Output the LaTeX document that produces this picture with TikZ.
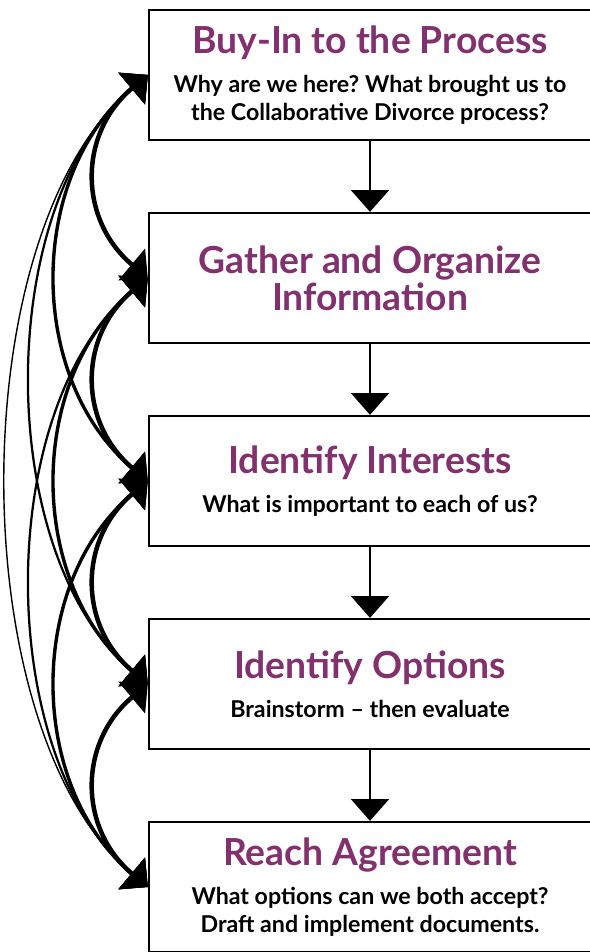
\documentclass[tikz,border=0pt]{standalone}
\usepackage{fontspec}
\setmainfont{Lato}
\usetikzlibrary{arrows.meta}
\definecolor{plum}{RGB}{130,48,110}
\newcommand{\titlefont}{\fontsize{26.5}{26.5}\selectfont\bfseries\color{plum}}
\newcommand{\notefont}{\fontsize{16.5}{20}\selectfont\bfseries}
\frenchspacing

\begin{document}
\begin{tikzpicture}[x=0.025cm,y=0.025cm,
    stage/.style={draw,line width=1.6pt,minimum width=11.05cm,minimum height=3.25cm,
      inner sep=0pt,align=center,font=\notefont},
    flow/.style={line width=1.4pt,-{Triangle[length=15.5pt,width=27pt]}},
    link/.style={{Triangle[length=15pt,width=29pt]}-{Triangle[length=15pt,width=29pt]}}]
  \useasboundingbox (0,0) rectangle (590,952);

  \node[stage] (buyin) at (370,877) {{\titlefont Buy-In to the Process}\\[7.7pt]
    Why are we here? What brought us to\\the Collaborative Divorce process?};
  \node[stage,font=\titlefont] (gather) at (370,674) {Gather and Organize\\Information};
  \node[stage] (interests) at (370,471) {{\titlefont Identify Interests}\\[7.7pt]
    What is important to each of us?};
  \node[stage] (options) at (370,268) {{\titlefont Identify Options}\\[7.7pt]
    Brainstorm -- then evaluate};
  \node[stage] (agreement) at (370,65) {{\titlefont Reach Agreement}\\[7.7pt]
    What options can we both accept?\\Draft and implement documents.};

  % steps down
  \draw[flow] (buyin) -- (gather);
  \draw[flow] (gather) -- (interests);
  \draw[flow] (interests) -- (options);
  \draw[flow] (options) -- (agreement);

  % back and forth between any two steps
  \draw[link,line width=1pt] (buyin.west) to[out=220,in=140,looseness=0.77] (agreement.west);
  \draw[link,line width=1.6pt] (buyin.west) to[out=220,in=140,looseness=0.85] (options.west);
  \draw[link,line width=1.6pt] (gather.west) to[out=220,in=140,looseness=0.85] (agreement.west);
  \draw[link,line width=2.4pt] (buyin.west) to[out=220,in=140,looseness=1] (interests.west);
  \draw[link,line width=2.4pt] (gather.west) to[out=220,in=140,looseness=1] (options.west);
  \draw[link,line width=2.4pt] (interests.west) to[out=220,in=140,looseness=1] (agreement.west);
  \draw[link,line width=3.2pt] (buyin.west) to[out=220,in=140,looseness=1.15] (gather.west);
  \draw[link,line width=3.2pt] (gather.west) to[out=220,in=140,looseness=1.15] (interests.west);
  \draw[link,line width=3.2pt] (interests.west) to[out=220,in=140,looseness=1.15] (options.west);
  \draw[link,line width=3.2pt] (options.west) to[out=220,in=140,looseness=1.15] (agreement.west);
\end{tikzpicture}
\end{document}
